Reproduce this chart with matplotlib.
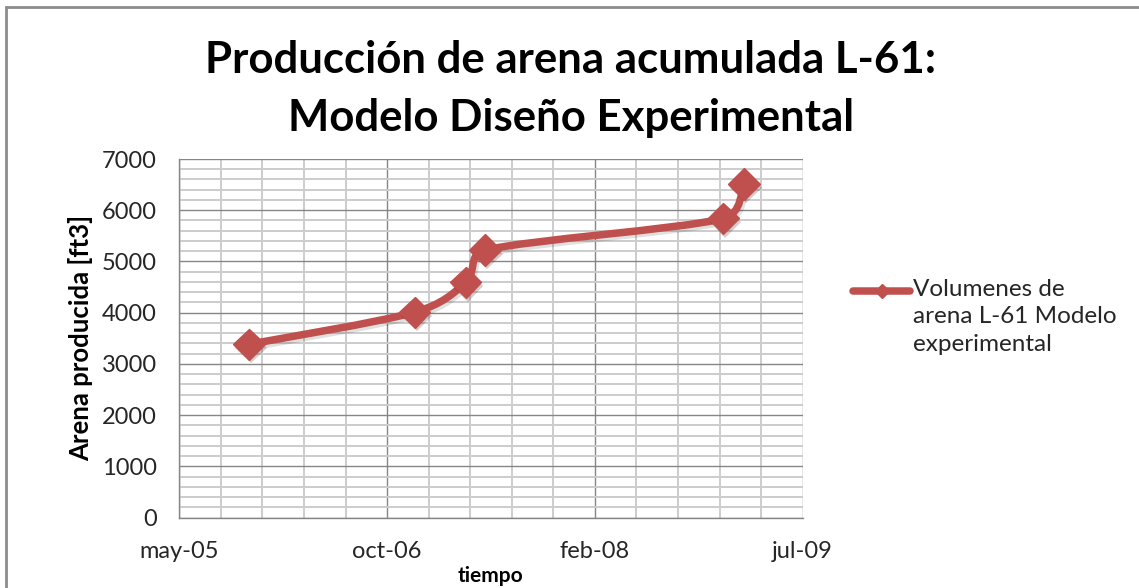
"""Produccion de arena acumulada L-61 - modelo diseno experimental."""
import datetime as dt
import math
import matplotlib; matplotlib.use('Agg')
import matplotlib.pyplot as plt
import matplotlib.dates as mdates
from matplotlib.path import Path
from matplotlib.patches import PathPatch, Rectangle
from matplotlib.lines import Line2D
from matplotlib.ticker import MultipleLocator, FuncFormatter
import matplotlib.patheffects as pe

RED = '#c0504d'; INK = '#262626'; MAJ = '#868686'; MIN = '#cccccc'
plt.rcParams.update({'font.family': ['Lato', 'DejaVu Sans'], 'font.size': 17})

# data
fechas = ['2005-11-12', '2006-12-15', '2007-04-17', '2007-06-03', '2008-12-27', '2009-02-15']
arena = [3385, 4010, 4590, 5220, 5840, 6510]
serie = 'Volumenes de\narena L-61 Modelo\nexperimental'
meses = ['ene', 'feb', 'mar', 'abr', 'may', 'jun', 'jul', 'ago', 'sep', 'oct', 'nov', 'dic']

x = [mdates.date2num(dt.date.fromisoformat(f)) for f in fechas]
x0 = mdates.date2num(dt.date(2005, 5, 28))   # excel 38500
x1 = x0 + 1500

W, H = 1139, 588
AX = [179.3, 517.7, 623.4, 358.7]   # left, bottom(px from top), width, height
fig = plt.figure(figsize=(W/100, H/100), dpi=100)
ax = fig.add_axes([AX[0]/W, 1-AX[1]/H, AX[2]/W, AX[3]/H])
ax.set_xlim(x0, x1); ax.set_ylim(0, 7000)

# excel-style grid: major + minor both ways
ax.xaxis.set_major_locator(MultipleLocator(500, offset=x0 % 500))
ax.xaxis.set_minor_locator(MultipleLocator(100, offset=x0 % 100))
ax.yaxis.set_major_locator(MultipleLocator(1000)); ax.yaxis.set_minor_locator(MultipleLocator(200))
ax.grid(which='minor', color=MIN, lw=1.4); ax.grid(which='major', color=MAJ, lw=1.0)
ax.set_axisbelow(True)
def fmt(v, pos):
    d = mdates.num2date(v); return f'{meses[d.month-1]}-{d.year % 100:02d}'
ax.xaxis.set_major_formatter(FuncFormatter(fmt))
ax.tick_params(which='both', length=0, labelcolor=INK, labelsize=17)
ax.tick_params(axis='x', pad=17); ax.tick_params(axis='y', pad=16)
for s in ['top', 'right']: ax.spines[s].set_visible(False)
for s in ['left', 'bottom']: ax.spines[s].set_color(MAJ); ax.spines[s].set_linewidth(1.0)

# smoothed line, excel-like bezier: tangent (p2-p0)/6, capped at half the segment (screen space)
sx = AX[2]/(x1-x0); sy = AX[3]/7000
def dist(a, b): return math.hypot((a[0]-b[0])*sx, (a[1]-b[1])*sy)
pts = list(zip(x, arena)); verts = [pts[0]]; codes = [Path.MOVETO]
for i in range(len(pts)-1):
    p0 = pts[i-1] if i > 0 else pts[i]; p1 = pts[i]; p2 = pts[i+1]
    p3 = pts[i+2] if i+2 < len(pts) else pts[i+1]
    seg = dist(p1, p2)
    d02 = dist(p0, p2); f1 = 1/6 if d02*1/6 <= seg/2 else seg/(2*d02)
    d13 = dist(p1, p3); f2 = 1/6 if d13*1/6 <= seg/2 else seg/(2*d13)
    c1 = (p1[0]+(p2[0]-p0[0])*f1, p1[1]+(p2[1]-p0[1])*f1)
    c2 = (p2[0]-(p3[0]-p1[0])*f2, p2[1]-(p3[1]-p1[1])*f2)
    verts += [c1, c2, p2]; codes += [Path.CURVE4]*3
shadow = [pe.SimpleLineShadow(offset=(1.5, -2), shadow_color='k', alpha=0.12), pe.Normal()]
ax.add_patch(PathPatch(Path(verts, codes), fill=False, edgecolor=RED, lw=5.4,
                       capstyle='round', joinstyle='round', path_effects=shadow, zorder=3))
ax.plot(x, arena, 'D', ms=16, color=RED, mec=RED, zorder=4,
        path_effects=[pe.SimplePatchShadow(offset=(1.5, -2.5), alpha=0.22), pe.Normal()])

ax.set_ylabel('Arena producida [ft3]', fontsize=18.5, fontweight='bold', color='black', labelpad=6)
ax.set_xlabel('tiempo', fontsize=15, fontweight='bold', color='black', labelpad=3)

fig.text(571/W, 1-60/H, 'Producción de arena acumulada L-61:', ha='center', va='center',
         fontsize=31.5, fontweight='bold', color='black')
fig.text(571/W, 1-118/H, 'Modelo Diseño Experimental', ha='center', va='center',
         fontsize=31.5, fontweight='bold', color='black')

# legend drawn excel-like: handle at first line of wrapped text
fig.add_artist(Line2D([853/W, 910/W], [1-291/H]*2, color=RED, lw=5.4, solid_capstyle='round'))
fig.add_artist(Line2D([882/W], [1-291/H], marker='D', ms=7, color=RED))
fig.text(913/W, 1-279/H, serie, fontsize=17.5, color=INK, va='top', linespacing=1.38)

fig.add_artist(Rectangle((6/W, -0.02), 1.02, 1-7/H+0.02, transform=fig.transFigure,
                         fill=False, edgecolor='#8c8c8c', lw=2))
fig.savefig('out.png', dpi=100)
